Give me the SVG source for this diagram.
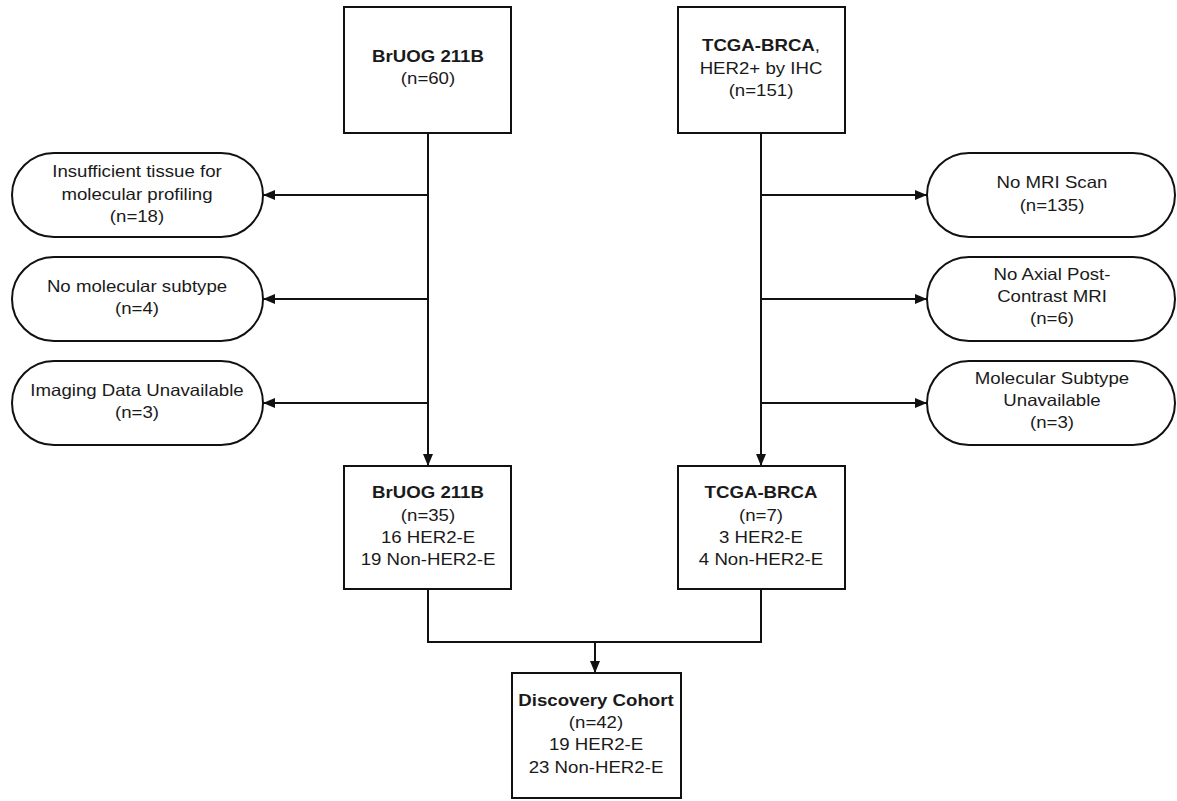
<svg xmlns="http://www.w3.org/2000/svg" width="1177" height="801" viewBox="0 0 1177 801">
<style>
.box{fill:#fff;stroke:#111;stroke-width:2}
.t{font-family:"Liberation Sans",Arial,sans-serif;font-size:16.5px;fill:#1a1a1a;text-anchor:middle}
.b{font-weight:bold}
.c{fill:none;stroke:#111;stroke-width:2}
</style>
<defs>
<marker id="ah" viewBox="0 0 12 10" refX="12" refY="5" markerWidth="12" markerHeight="10" markerUnits="userSpaceOnUse" orient="auto">
<path d="M0,0 L12,5 L0,10 z" fill="#111"/>
</marker>
</defs>
<rect width="1177" height="801" fill="#fff"/>
<g id="connectors">
<path class="c" d="M428,133 V466" marker-end="url(#ah)"/>
<path class="c" d="M428,195 H263" marker-end="url(#ah)"/>
<path class="c" d="M428,299 H263" marker-end="url(#ah)"/>
<path class="c" d="M428,403 H263" marker-end="url(#ah)"/>
<path class="c" d="M761,133 V466" marker-end="url(#ah)"/>
<path class="c" d="M761,195 H927" marker-end="url(#ah)"/>
<path class="c" d="M761,299 H927" marker-end="url(#ah)"/>
<path class="c" d="M761,403 H927" marker-end="url(#ah)"/>
<path class="c" d="M428,589 V642 H761 V589"/>
<path class="c" d="M595,642 V673" marker-end="url(#ah)"/>
</g>
<g id="bruog-top">
<rect class="box" x="344" y="7" width="167" height="126"/>
<g transform="translate(428,0) scale(1.13,1)">
<text class="t b" x="0" y="62">BrUOG 211B</text>
<text class="t" x="0" y="84">(n=60)</text>
</g>
</g>
<g id="tcga-top">
<rect class="box" x="678" y="7" width="167" height="126"/>
<g transform="translate(761,0) scale(1.13,1)">
<text class="t b" x="0" y="51">TCGA-BRCA<tspan font-weight="normal">,</tspan></text>
<text class="t" x="0" y="74">HER2+ by IHC</text>
<text class="t" x="0" y="96">(n=151)</text>
</g>
</g>
<g id="excl-l1">
<rect class="box" x="12" y="153" width="251" height="84" rx="42" ry="42"/>
<g transform="translate(137,0) scale(1.13,1)">
<text class="t" x="0" y="177">Insufficient tissue for</text>
<text class="t" x="0" y="200">molecular profiling</text>
<text class="t" x="0" y="222">(n=18)</text>
</g>
</g>
<g id="excl-l2">
<rect class="box" x="12" y="257" width="251" height="84" rx="42" ry="42"/>
<g transform="translate(137,0) scale(1.13,1)">
<text class="t" x="0" y="292">No molecular subtype</text>
<text class="t" x="0" y="314">(n=4)</text>
</g>
</g>
<g id="excl-l3">
<rect class="box" x="12" y="361" width="251" height="84" rx="42" ry="42"/>
<g transform="translate(137,0) scale(1.13,1)">
<text class="t" x="0" y="396">Imaging Data Unavailable</text>
<text class="t" x="0" y="418">(n=3)</text>
</g>
</g>
<g id="excl-r1">
<rect class="box" x="927" y="153" width="248" height="84" rx="42" ry="42"/>
<g transform="translate(1052,0) scale(1.13,1)">
<text class="t" x="0" y="188">No MRI Scan</text>
<text class="t" x="0" y="211">(n=135)</text>
</g>
</g>
<g id="excl-r2">
<rect class="box" x="927" y="257" width="248" height="84" rx="42" ry="42"/>
<g transform="translate(1052,0) scale(1.13,1)">
<text class="t" x="0" y="280">No Axial Post-</text>
<text class="t" x="0" y="302">Contrast MRI</text>
<text class="t" x="0" y="324">(n=6)</text>
</g>
</g>
<g id="excl-r3">
<rect class="box" x="927" y="361" width="248" height="84" rx="42" ry="42"/>
<g transform="translate(1052,0) scale(1.13,1)">
<text class="t" x="0" y="384">Molecular Subtype</text>
<text class="t" x="0" y="406">Unavailable</text>
<text class="t" x="0" y="428">(n=3)</text>
</g>
</g>
<g id="bruog-final">
<rect class="box" x="344" y="466" width="167" height="123"/>
<g transform="translate(428,0) scale(1.13,1)">
<text class="t b" x="0" y="498">BrUOG 211B</text>
<text class="t" x="0" y="521">(n=35)</text>
<text class="t" x="0" y="543">16 HER2-E</text>
<text class="t" x="0" y="565">19 Non-HER2-E</text>
</g>
</g>
<g id="tcga-final">
<rect class="box" x="678" y="466" width="167" height="123"/>
<g transform="translate(761,0) scale(1.13,1)">
<text class="t b" x="0" y="498">TCGA-BRCA</text>
<text class="t" x="0" y="521">(n=7)</text>
<text class="t" x="0" y="543">3 HER2-E</text>
<text class="t" x="0" y="565">4 Non-HER2-E</text>
</g>
</g>
<g id="discovery">
<rect class="box" x="512" y="673" width="169" height="125"/>
<g transform="translate(596,0) scale(1.13,1)">
<text class="t b" x="0" y="706">Discovery Cohort</text>
<text class="t" x="0" y="728">(n=42)</text>
<text class="t" x="0" y="750">19 HER2-E</text>
<text class="t" x="0" y="773">23 Non-HER2-E</text>
</g>
</g>
</svg>
